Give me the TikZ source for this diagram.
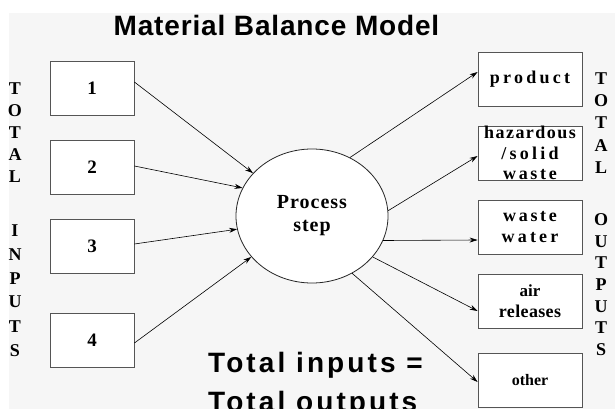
\documentclass[tikz,border=0pt]{standalone}
\usepackage{fontspec}
\setmainfont{Liberation Serif}
\newfontfamily\hsans{Liberation Sans}
\usetikzlibrary{arrows.meta,shapes.geometric}
\newcommand{\lsp}[2]{{\addfontfeatures{LetterSpace=#1}#2}}
\definecolor{bgray}{HTML}{F6F6F6}
\definecolor{boxline}{HTML}{555555}
\tikzset{
  inbox/.style={draw=boxline,fill=white,line width=0.8pt,minimum width=84pt,minimum height=54pt,inner sep=0pt,
    font=\fontsize{19}{20}\selectfont\bfseries},
  outbox/.style={draw=boxline,fill=white,line width=0.8pt,minimum width=104pt,minimum height=54pt,inner sep=0pt,
    align=center,font=\fontsize{18}{20.5}\selectfont\bfseries},
  flow/.style={draw=black,line width=0.6pt,-{Stealth[length=8pt,width=5pt]}},
  vlet/.style={font=\fontsize{18}{20}\selectfont\bfseries,inner sep=0pt},
  bigsans/.style={font=\hsans\fontsize{28}{30}\selectfont\bfseries,inner sep=0pt}
}
\begin{document}
\begin{tikzpicture}[x=1pt,y=-1pt]
\useasboundingbox (0,0) rectangle (615,409);
\clip (0,0) rectangle (615,409);
\fill[white] (0,0) rectangle (615,409);
\fill[bgray] (9,13) rectangle (615,409);

% title
\node[font=\hsans\fontsize{28}{30}\selectfont\bfseries,inner sep=0pt,anchor=base] (title) at (276.5,35.5) {\lsp{3}{Material Balance Model}};

% input boxes
\node[inbox] (b1) at (92,88.5) {1};
\node[inbox] (b2) at (92,167.5) {2};
\node[inbox] (b3) at (92,246) {3};
\node[inbox] (b4) at (92,340.5) {4};

% process
\node[ellipse,draw=black!85,fill=white,line width=0.8pt,minimum width=152pt,minimum height=134pt,inner sep=0pt,
  align=center,font=\fontsize{20}{23}\selectfont\bfseries] (p) at (312,216) {\lsp{5}{Process}\\\lsp{5}{step}};

% output boxes
\node[outbox] (o1) at (530,79) {\lsp{18}{product}};
\node[outbox] (o2) at (530,153) {\lsp{8}{hazardous}\\\lsp{18}{/solid}\\\lsp{15}{waste}};
\node[outbox] (o3) at (530,227) {\lsp{15}{waste}\\\lsp{18}{water}};
\node[outbox] (o4) at (530,301) {{\fontsize{17}{20.5}\selectfont air}\\\lsp{2}{releases}};
\node[outbox,font=\fontsize{16}{20}\selectfont\bfseries] (o5) at (530,380) {other};

% arrows in
\draw[flow] ([yshift=6.5pt]b1.east) -- (p.144);
\draw[flow] ([yshift=1.5pt]b2.east) -- (p.158);
\draw[flow] ([yshift=2pt]b3.east) -- (p.190);
\draw[flow] ([yshift=-2.5pt]b4.east) -- (p.214);

% arrows out
\draw[flow] (p.57) -- ([yshift=7pt]o1.west);
\draw[flow] (p.4) -- ([yshift=-3pt]o2.west);
\draw[flow] (p.341) -- ([yshift=-13pt]o3.west);
\draw[flow] (p.326) -- ([yshift=-10pt]o4.west);
\draw[flow] (p.305) -- ([yshift=-2pt]o5.west);

% vertical labels
\foreach \ch/\yy [count=\i] in {T/89,O/111,T/133,A/155,L/177,I/231,N/255,P/279,U/302,T/327,S/351}
  \node[vlet] (l\i) at (15,\yy) {\ch};
\foreach \ch/\yy [count=\i] in {T/79,O/101,T/123,A/146,L/168,O/220,U/242,T/263,P/285,U/307,T/328,S/350}
  \node[vlet] (r\i) at (601,\yy) {\ch};

% equation
\node[bigsans,anchor=base west] (eq1) at (208,372) {\lsp{11}{Total inputs =}};
\node[bigsans,anchor=base west] (eq2) at (208,411) {\lsp{11}{Total outputs}};
\end{tikzpicture}
\end{document}
